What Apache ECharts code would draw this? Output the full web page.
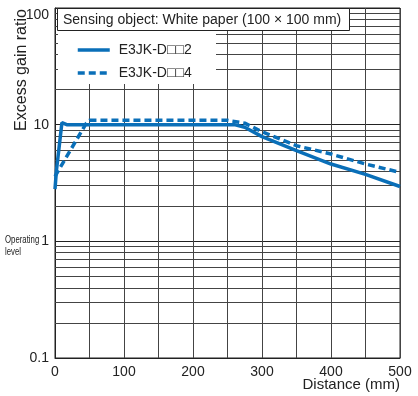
<!DOCTYPE html>
<html>
<head>
<meta charset="utf-8">
<script src="https://cdn.jsdelivr.net/npm/echarts@6/dist/echarts.min.js"></script>
<style>
  html, body { margin: 0; padding: 0; background: #fff; }
  #chart { width: 418px; height: 396px; }
</style>
</head>
<body>
<div id="chart"></div>
<script>
// distance (mm) / excess gain ratio
const seriesNames = ["E3JK-D\u25A1\u25A12", "E3JK-D\u25A1\u25A14"];
const distance2 = [0, 2, 10, 17, 260, 275, 300, 350, 400, 450, 500];
const gain2 = [2.8, 4, 10.4, 10, 10, 9.5, 7.9, 6.0, 4.6, 3.75, 2.95];
const distance4 = [0, 45, 50, 250, 275, 300, 350, 400, 450, 500];
const gain4 = [3.6, 10.2, 10.9, 10.9, 10.3, 8.7, 6.6, 5.6, 4.6, 3.9];

// minor log grid lines
const minorTicks = [0.2, 0.3, 0.4, 0.5, 0.6, 0.7, 0.8, 0.9,
  2, 3, 4, 5, 6, 7, 8, 9, 20, 30, 40, 50, 60, 70, 80, 90];

const blue = "#0a6fb8";
const font = "Liberation Sans, Arial, sans-serif";

var chart = echarts.init(document.getElementById("chart"));

chart.setOption({
  animation: false,
  grid: {
    left: 55, right: 18, top: 8, bottom: 38,
    containLabel: false,
    outerBoundsMode: "none",
    show: true, borderColor: "#222", borderWidth: 1,
  },
  xAxis: {
    type: "value",
    min: 0, max: 500, interval: 50,
    axisLine: { lineStyle: { color: "#222" } },
    axisTick: { show: false },
    axisLabel: {
      margin: 7, fontSize: 14, color: "#222", fontFamily: font,
      formatter: (v) => (v % 100 === 0 ? String(v) : ""),
    },
    splitLine: { show: true, lineStyle: { color: "#444", width: 1 } },
  },
  yAxis: {
    type: "log",
    logBase: 10,
    min: 0.1, max: 100,
    axisLine: { show: true, lineStyle: { color: "#222" } },
    axisTick: { show: false },
    axisLabel: {
      margin: 6, fontSize: 14, color: "#222", fontFamily: font,
      formatter: (v) => String(v),
      verticalAlignMaxLabel: "top",
    },
    splitLine: { show: true, lineStyle: { color: "#222", width: 1 } },
  },
  legend: {
    data: seriesNames,
    orient: "vertical",
    left: 76, top: 43, padding: 0,
    itemWidth: 32, itemHeight: 14, itemGap: 9,
    itemStyle: { opacity: 0 },
    lineStyle: { width: 3.5 },
    textStyle: { fontSize: 14, color: "#222", fontFamily: font, padding: [0, 0, 0, 4] },
    z: 20,
  },
  graphic: [
    {
      type: "rect", z: 10,
      shape: { x: 58, y: 30, width: 158, height: 54 },
      style: { fill: "#fff" },
    },
    {
      type: "rect", z: 10,
      shape: { x: 57.5, y: 8.5, width: 292, height: 22 },
      style: { fill: "#fff", stroke: "#222", lineWidth: 1 },
    },
    {
      type: "text", z: 11, x: 63, y: 20,
      style: {
        text: "Sensing object: White paper (100 \u00D7 100 mm)",
        fontSize: 14, fill: "#222", fontFamily: font, textVerticalAlign: "middle",
      },
    },
    {
      type: "text", x: 22, y: 70, rotation: Math.PI / 2,
      style: {
        text: "Excess gain ratio",
        fontSize: 16, fill: "#222", fontFamily: font,
        textAlign: "center", textVerticalAlign: "middle",
      },
    },
    {
      type: "text", x: 400, y: 385,
      style: {
        text: "Distance (mm)",
        fontSize: 15, fill: "#222", fontFamily: font,
        textAlign: "right", textVerticalAlign: "middle",
      },
    },
    {
      type: "text", x: 5, y: 234, scaleX: 0.78,
      style: {
        text: "Operating\nlevel",
        fontSize: 10, lineHeight: 12, fill: "#222", fontFamily: font,
      },
    },
  ],
  series: [
    {
      name: "minor grid",
      type: "line",
      data: [],
      z: 1,
      silent: true,
      markLine: {
        silent: true,
        symbol: "none",
        label: { show: false },
        lineStyle: { color: "#444", width: 1, type: "solid" },
        data: minorTicks.map((v) => ({ yAxis: v })),
      },
    },
    {
      name: seriesNames[0],
      type: "line",
      z: 5,
      showSymbol: false,
      symbol: "none",
      lineStyle: { color: blue, width: 3.5 },
      itemStyle: { color: blue },
      data: distance2.map((d, i) => [d, gain2[i]]),
    },
    {
      name: seriesNames[1],
      type: "line",
      z: 5,
      showSymbol: false,
      symbol: "none",
      lineStyle: { color: blue, width: 3.5, type: [7, 4] },
      itemStyle: { color: blue },
      data: distance4.map((d, i) => [d, gain4[i]]),
    },
  ],
});
</script>
</body>
</html>
